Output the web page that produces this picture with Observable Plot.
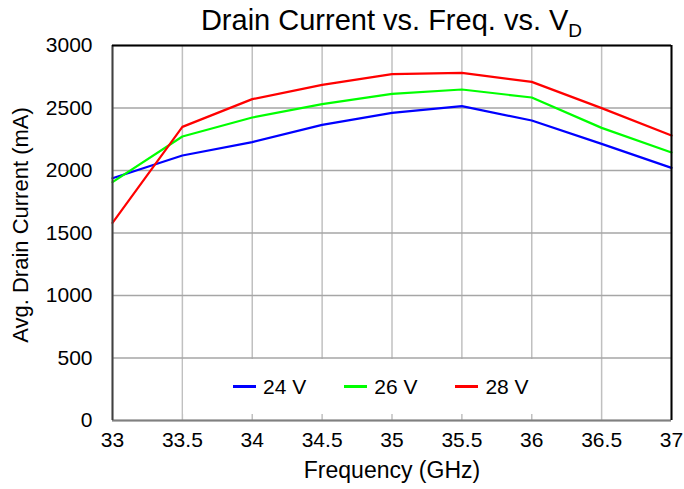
<!DOCTYPE html>
<html>
<head>
<meta charset="utf-8">
<script src="https://cdn.jsdelivr.net/npm/d3@7"></script>
<script src="https://cdn.jsdelivr.net/npm/@observablehq/plot@0.6"></script>
<style>
  html, body { margin: 0; padding: 0; background: #fff; }
  #wrap { position: relative; width: 684px; height: 489px; font-family: "Liberation Sans", Arial, sans-serif; }
  #title { position: absolute; left: 112px; width: 559px; top: 3px; text-align: center; font-size: 29px; color: #000; white-space: nowrap; line-height: 34px; }
  #title sub { font-size: 19px; vertical-align: -7px; line-height: 0; }
  #legend { position: absolute; left: 183px; top: 359px; width: 367px; height: 55px; padding-left: 50px; background: #fff; display: flex; align-items: center; justify-content: flex-start; font-size: 21px; color: #000; }
  .item { display: flex; align-items: center; margin-right: 38px; }
  .sw { width: 23px; height: 3px; margin-right: 7px; }
  #chart { position: absolute; left: 0; top: 0; }
</style>
</head>
<body>
<div id="wrap">
  <div id="chart"></div>
  <div id="title">Drain Current vs. Freq. vs. V<sub>D</sub></div>
  <div id="legend"></div>
</div>
<script>
const freqs = [33, 33.5, 34, 34.5, 35, 35.5, 36, 36.5, 37];
const current24V = [1938, 2120, 2227, 2365, 2461, 2515, 2400, 2213, 2021];
const current26V = [1907, 2272, 2424, 2531, 2613, 2648, 2584, 2341, 2144];
const current28V = [1581, 2349, 2571, 2685, 2771, 2781, 2709, 2499, 2280];
const seriesNames = ["24 V", "26 V", "28 V"];
const seriesColors = ["#0000ff", "#00ff00", "#ff0000"];
const xTicks = [33, 33.5, 34, 34.5, 35, 35.5, 36, 36.5, 37];
const yTicks = [0, 500, 1000, 1500, 2000, 2500, 3000];

const allSeries = [current24V, current26V, current28V];
const rows = [];
allSeries.forEach((vals, si) => {
  vals.forEach((v, i) => rows.push({freq: freqs[i], current: v, series: seriesNames[si]}));
});

const xDomain = [xTicks[0], xTicks[xTicks.length - 1]];
const yDomain = [yTicks[0], yTicks[yTicks.length - 1]];

const chart = Plot.plot({
  width: 684,
  height: 489,
  marginLeft: 112,
  marginRight: 13,
  marginTop: 45,
  marginBottom: 69,
  style: { fontFamily: "Liberation Sans, Arial, sans-serif", background: "#fff", color: "#000" },
  x: { domain: xDomain },
  y: { domain: yDomain },
  color: { domain: seriesNames, range: seriesColors },
  marks: [
    Plot.gridX(xTicks, { stroke: "#c0c0c0", strokeOpacity: 1, strokeWidth: 1.5 }),
    Plot.gridY(yTicks, { stroke: "#a6a6a6", strokeOpacity: 1, strokeWidth: 1.5 }),
    Plot.line(rows, { x: "freq", y: "current", z: "series", stroke: "series", strokeWidth: 2.2 }),
    Plot.ruleY([yDomain[0]], { stroke: "#808080", strokeWidth: 2 }),
    Plot.ruleX([xDomain[0]], { stroke: "#404040", strokeWidth: 2 }),
    Plot.ruleY([yDomain[1]], { stroke: "#000", strokeWidth: 2 }),
    Plot.ruleX([xDomain[1]], { stroke: "#000", strokeWidth: 2 }),
    Plot.axisX(xTicks, { tickSize: 0, tickPadding: 12, fontSize: 21, tickFormat: d => String(d), label: "Frequency (GHz)", labelAnchor: "center", labelArrow: "none", labelOffset: 57 }),
    Plot.axisY(yTicks, { tickSize: 0, tickPadding: 20, fontSize: 21, tickFormat: d => String(d), label: "Avg. Drain Current (mA)", labelAnchor: "center", labelArrow: "none", labelOffset: 100 })
  ]
});
document.getElementById("chart").appendChild(chart);

// axis label font size and fine placement
chart.querySelectorAll("[aria-label='x-axis label'] text").forEach(t => t.setAttribute("font-size", 23));
chart.querySelectorAll("[aria-label='y-axis label'] text").forEach(t => { t.setAttribute("font-size", 22); t.setAttribute("dx", 8); });

const legend = document.getElementById("legend");
seriesNames.forEach((name, i) => {
  const it = document.createElement("div");
  it.className = "item";
  const sw = document.createElement("span");
  sw.className = "sw";
  sw.style.background = seriesColors[i];
  const tx = document.createElement("span");
  tx.textContent = name;
  it.appendChild(sw); it.appendChild(tx);
  legend.appendChild(it);
});
</script>
</body>
</html>
